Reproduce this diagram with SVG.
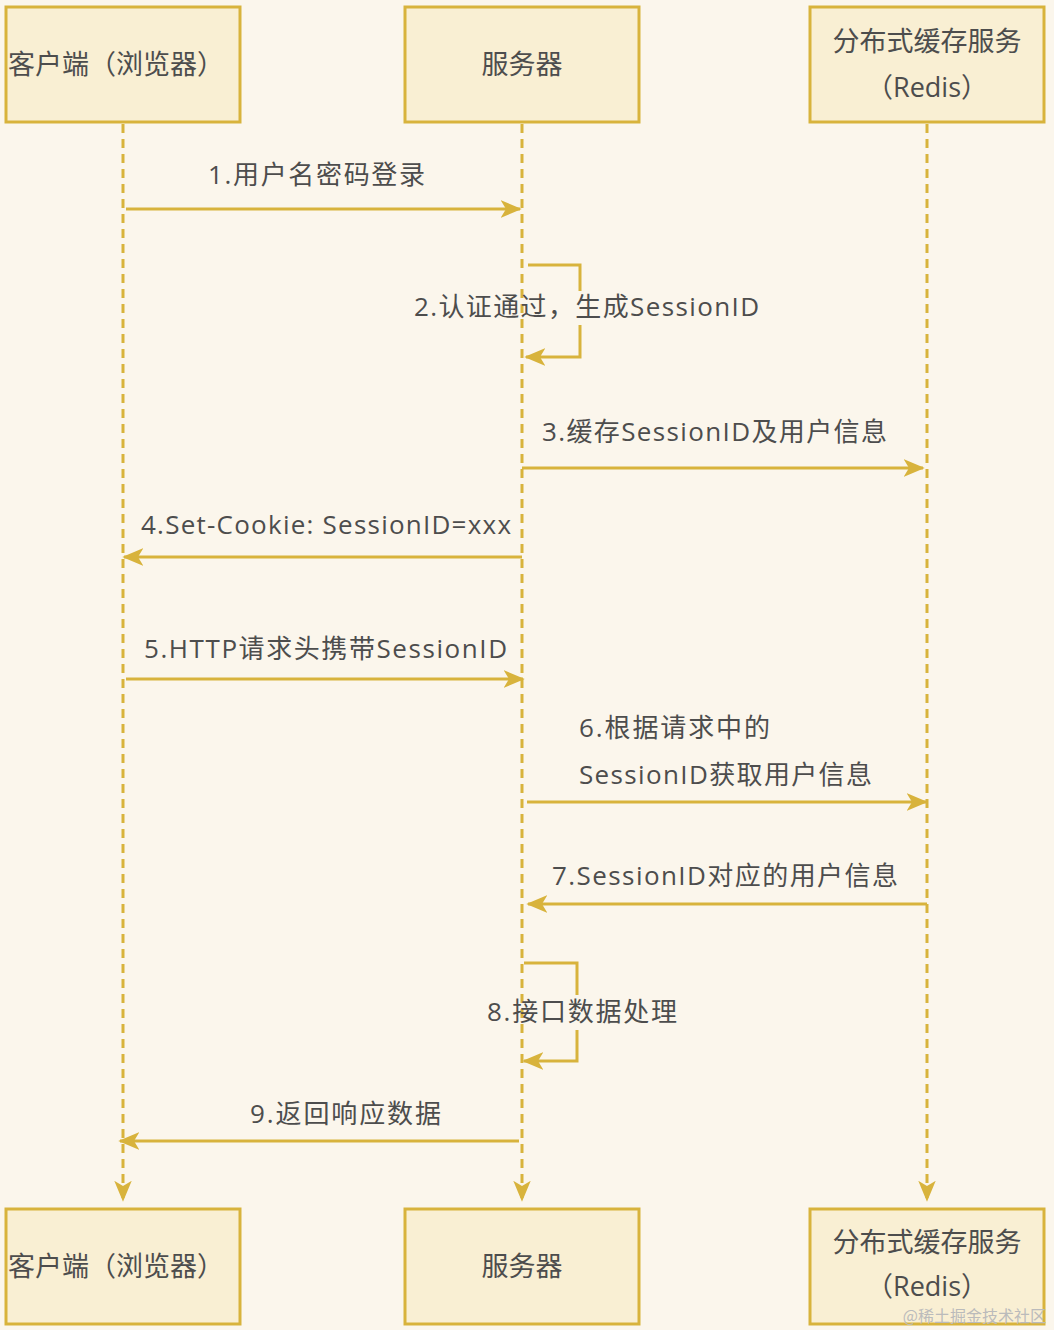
<svg xmlns="http://www.w3.org/2000/svg" width="1054" height="1330" viewBox="0 0 1054 1330">
<defs>
<style>
.box{fill:#f9efd3;stroke:#d8b33c;stroke-width:3}
.t{font-family:"Open Sans","Noto Sans CJK SC",sans-serif;font-size:27px;fill:#4d4d4d;text-anchor:middle}
.l{font-family:"Open Sans","Noto Sans CJK SC",sans-serif;font-size:26px;fill:#4d4d4d}
.life{stroke:#d8b33c;stroke-width:3;stroke-dasharray:9,6;fill:none}
.m{stroke:#d8b33c;stroke-width:3;fill:none;marker-end:url(#a)}
</style>
<marker id="a" viewBox="0 0 12 10" refX="11" refY="5" markerWidth="7" markerHeight="6" orient="auto" markerUnits="strokeWidth"><path d="M0,0 L12,5 L0,10 L3,5 Z" fill="#d8b33c"/></marker>
</defs>
<rect width="1054" height="1330" fill="#fbf6ec"/>
<g id="connectors">
<path class="life" d="M123,124 V1200" marker-end="url(#a)"/>
<path class="life" d="M522,124 V1200" marker-end="url(#a)"/>
<path class="life" d="M927,124 V1200" marker-end="url(#a)"/>
<path class="m" d="M126,209 H520"/>
<path class="m" d="M528,265 H580 V291 M580,325 V357 H526"/>
<path class="m" d="M522,468 H923"/>
<path class="m" d="M522,557 H124"/>
<path class="m" d="M126,679 H523"/>
<path class="m" d="M527,802 H926"/>
<path class="m" d="M927,904 H528"/>
<path class="m" d="M524,963 H577 V995 M577,1030 V1061 H524"/>
<path class="m" d="M519,1141 H120"/>
</g>
<g id="labels">
<text class="l" x="208" y="184" textLength="217">1.用户名密码登录</text>
<text class="l" x="414" y="316" textLength="345">2.认证通过，生成SessionID</text>
<text class="l" x="542" y="441" textLength="345">3.缓存SessionID及用户信息</text>
<text class="l" x="141" y="534" textLength="370">4.Set-Cookie: SessionID=xxx</text>
<text class="l" x="144" y="658" textLength="363">5.HTTP请求头携带SessionID</text>
<text class="l" x="579" y="737" textLength="191">6.根据请求中的</text>
<text class="l" x="579" y="784" textLength="293">SessionID获取用户信息</text>
<text class="l" x="552" y="885" textLength="346">7.SessionID对应的用户信息</text>
<text class="l" x="487" y="1021" textLength="190">8.接口数据处理</text>
<text class="l" x="250" y="1123" textLength="191">9.返回响应数据</text>
</g>
<g id="client-top"><rect class="box" x="6" y="7" width="234" height="115"/><text class="t" x="116" y="74">客户端（浏览器）</text></g>
<g id="server-top"><rect class="box" x="405" y="7" width="234" height="115"/><text class="t" x="522" y="74">服务器</text></g>
<g id="redis-top"><rect class="box" x="810" y="7" width="234" height="115"/><text class="t" x="927" y="51">分布式缓存服务</text><text class="t" x="927" y="97">（Redis）</text></g>
<g id="client-bottom"><rect class="box" x="6" y="1209" width="234" height="115"/><text class="t" x="116" y="1276">客户端（浏览器）</text></g>
<g id="server-bottom"><rect class="box" x="405" y="1209" width="234" height="115"/><text class="t" x="522" y="1276">服务器</text></g>
<g id="redis-bottom"><rect class="box" x="810" y="1209" width="234" height="115"/><text class="t" x="927" y="1252">分布式缓存服务</text><text class="t" x="927" y="1296">（Redis）</text></g>
<text x="1046" y="1322" font-family="Noto Sans CJK SC,serif" font-size="16" fill="#bbbbbb" text-anchor="end">@稀土掘金技术社区</text>
</svg>
